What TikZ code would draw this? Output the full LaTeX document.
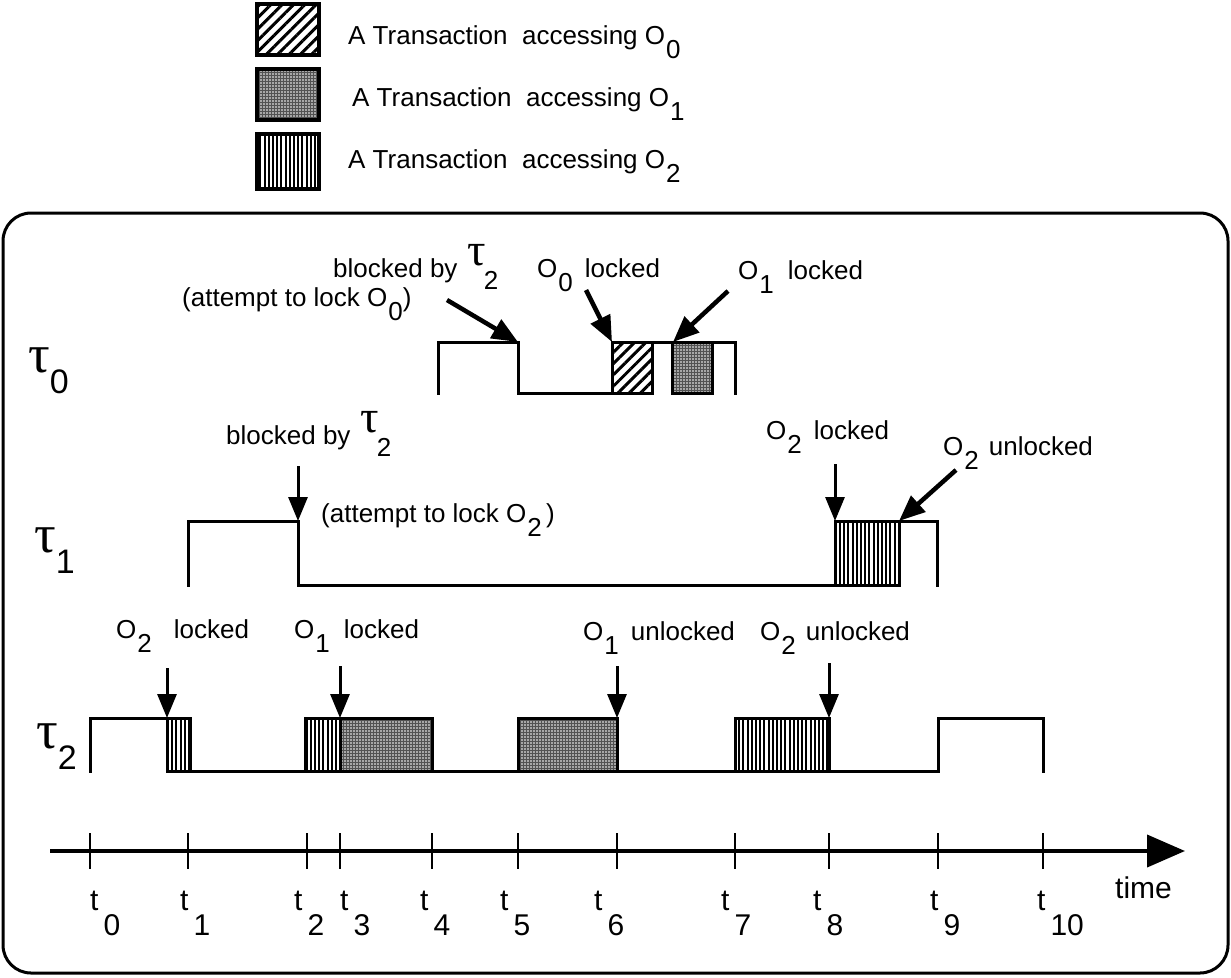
\documentclass[tikz,border=0pt]{standalone}
\usepackage{fontspec}
\setmainfont{Liberation Sans}
\newfontfamily\serifg{Liberation Serif}
\usetikzlibrary{arrows.meta,patterns.meta}
\newcommand\lblsize{\fontsize{26}{30}\selectfont}
\newcommand\Osb[1]{O\kern1pt\raisebox{-14pt}{#1}}
\newcommand\tauin[1]{\raisebox{12pt}{\serifg\fontsize{46}{46}\selectfont τ}\kern-2pt\raisebox{-12pt}{#1}}
\newcommand\taurow[1]{{\serifg\fontsize{54}{54}\selectfont τ}\raisebox{-21pt}{\fontsize{34}{34}\selectfont #1}}
\newcommand\tlab[1]{t\kern5pt\raisebox{-25pt}{#1}}
\begin{document}
\begin{tikzpicture}[x=1pt,y=-1pt,
  lbl/.style={inner sep=0pt, anchor=base west, font=\lblsize},
  tl/.style={inner sep=0pt, anchor=base west, font=\fontsize{30}{32}\selectfont},
  sig/.style={line width=3pt, line join=miter, line cap=rect},
  pO0/.style={draw, line width=3pt, pattern={Lines[angle=45,distance=8pt,line width=3pt]}},
  pO1/.style={draw, line width=3pt, preaction={fill=black!68}, pattern={Dots[distance=3pt,radius=0.8pt]}, pattern color=white},
  pO2/.style={draw, line width=3pt, pattern={Lines[angle=90,distance=4.2pt,line width=2pt]}},
  darr/.style={line width=4.5pt, -{Triangle[length=26pt,width=21pt]}},
  varr/.style={line width=3pt, -{Triangle[length=24pt,width=19pt]}},
  tick/.style={line width=2.8pt}]
\useasboundingbox (0,0) rectangle (1231,977);

% ---------- legend ----------
\draw[pO0, line width=4pt] (257,4) rectangle (319,55);
\draw[pO1, line width=4pt] (257,69) rectangle (319,120);
\draw[pO2, line width=4pt] (257,134) rectangle (319,189);
\node[lbl] (lg0) at (348,44) {A Transaction\ \ accessing \Osb{0}};
\node[lbl] (lg1) at (352,106) {A Transaction\ \ accessing \Osb{1}};
\node[lbl] (lg2) at (348,168) {A Transaction\ \ accessing \Osb{2}};

% ---------- frame ----------
\draw[line width=3pt, rounded corners=28pt] (3,213) rectangle (1228,973);

% ---------- row labels ----------
\node[inner sep=0pt, anchor=base west] (r0) at (28,372) {\taurow{0}};
\node[inner sep=0pt, anchor=base west] (r1) at (34,552) {\taurow{1}};
\node[inner sep=0pt, anchor=base west] (r2) at (36,748) {\taurow{2}};

% ---------- tau0 ----------
\draw[sig] (438,393) -- (438,342) -- (518,342) -- (518,393) -- (612,393);
\draw[pO0] (612,342) rectangle (652,393);
\draw[sig] (652,342) -- (672,342);
\draw[pO1] (672,342) rectangle (712,393);
\draw[sig] (712,342) -- (735,342) -- (735,393);
\coordinate (e0a) at (518,342);
\coordinate (e0b) at (612,342);
\coordinate (e0c) at (673,342);
\node[lbl] (b0) at (333,277) {blocked by\hspace{10pt}\tauin{2}};
\node[lbl] (at0) at (182,306) {(attempt to lock \Osb{0})};
\node[lbl] (l0a) at (537,277) {\Osb{0}\hspace{12pt}locked};
\node[lbl] (l0b) at (738,279) {\Osb{1}\hspace{14pt}locked};
\coordinate (s0a) at (447,300);
\coordinate (s0b) at (586,290);
\coordinate (s0c) at (728,291);
\draw[darr] (s0a) -- (e0a);
\draw[darr] (s0b) -- (e0b);
\draw[darr] (s0c) -- (e0c);

% ---------- tau1 ----------
\draw[sig] (188,585) -- (188,521) -- (298,521) -- (298,585) -- (835,585);
\draw[pO2] (835,521) rectangle (899,585);
\draw[sig] (899,521) -- (937,521) -- (937,585);
\coordinate (e1a) at (298,521);
\coordinate (e1b) at (835,521);
\coordinate (e1c) at (899,521);
\node[lbl] (b1) at (226,444) {blocked by\hspace{10pt}\tauin{2}};
\node[lbl] (at1) at (321,522) {(attempt to lock \Osb{2}\,)};
\node[lbl] (l1a) at (766,439) {\Osb{2}\hspace{12pt}locked};
\node[lbl] (l1b) at (943,455) {\Osb{2}\hspace{10pt}unlocked};
\coordinate (s1a) at (298,466);
\coordinate (s1b) at (835,464);
\coordinate (s1c) at (956,470);
\draw[varr] (s1a) -- (e1a);
\draw[varr] (s1b) -- (e1b);
\draw[darr] (s1c) -- (e1c);

% ---------- tau2 ----------
\draw[sig] (90,771) -- (90,718) -- (167,718);
\draw[pO2] (167,718) rectangle (190,771);
\draw[sig] (190,771) -- (305,771);
\draw[pO2] (305,718) rectangle (340,771);
\draw[pO1] (340,718) rectangle (432,771);
\draw[sig] (432,771) -- (518,771);
\draw[pO1] (518,718) rectangle (617,771);
\draw[sig] (617,771) -- (735,771);
\draw[pO2] (735,718) rectangle (829,771);
\draw[sig] (829,771) -- (938,771) -- (938,718) -- (1043,718) -- (1043,771);
\coordinate (e2a) at (167,718);
\coordinate (e2b) at (340,718);
\coordinate (e2c) at (617,718);
\coordinate (e2d) at (829,718);
\node[lbl] (l2a) at (116,638) {\Osb{2}\hspace{22pt}locked};
\node[lbl] (l2b) at (294,638) {\Osb{1}\hspace{14pt}locked};
\node[lbl] (l2c) at (583,640) {\Osb{1}\hspace{12pt}unlocked};
\node[lbl] (l2d) at (760,640) {\Osb{2}\hspace{10pt}unlocked};
\coordinate (s2a) at (167,668);
\coordinate (s2b) at (340,666);
\coordinate (s2c) at (617,666);
\coordinate (s2d) at (829,663);
\draw[varr] (s2a) -- (e2a);
\draw[varr] (s2b) -- (e2b);
\draw[varr] (s2c) -- (e2c);
\draw[varr] (s2d) -- (e2d);

% ---------- time axis ----------
\coordinate (ax0) at (50,851);
\coordinate (ax1) at (1185,851);
\draw[line width=4pt, -{Triangle[length=38pt,width=32pt]}] (ax0) -- (ax1);
\foreach \x in {90,188,307,340,432,518,617,735,829,938,1043}
  \draw[tick] (\x,833) -- (\x,869);
\node[tl] (t0) at (90,910) {\tlab{0}};
\node[tl] (t1) at (180,910) {\tlab{1}};
\node[tl] (t2) at (294,910) {\tlab{2}};
\node[tl] (t3) at (340,910) {\tlab{3}};
\node[tl] (t4) at (420,910) {\tlab{4}};
\node[tl] (t5) at (500,910) {\tlab{5}};
\node[tl] (t6) at (594,910) {\tlab{6}};
\node[tl] (t7) at (721,910) {\tlab{7}};
\node[tl] (t8) at (813,910) {\tlab{8}};
\node[tl] (t9) at (930,910) {\tlab{9}};
\node[tl] (t10) at (1037,910) {\tlab{10}};
\node[tl] (tm) at (1115,898) {time};
\end{tikzpicture}
\end{document}
